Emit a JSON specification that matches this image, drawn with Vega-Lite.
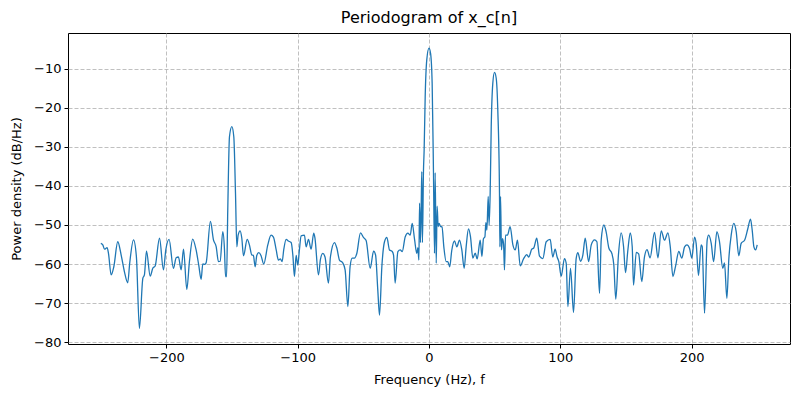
{
  "$schema": "https://vega.github.io/schema/vega-lite/v6.json",
  "width": 722,
  "height": 311,
  "autosize": {"type": "none"},
  "padding": {"left": 68, "top": 33, "right": 10, "bottom": 56},
  "title": {"text": "Periodogram of x_c[n]", "fontSize": 16, "fontWeight": "normal", "font": "DejaVu Sans", "offset": 7, "color": "black"},
  "data": {"values": [
    {"f": -250, "p": -54.7}, {"f": -248.5, "p": -55.1}, {"f": -247.2, "p": -56.2}, {"f": -245.2, "p": -55.8}, {"f": -244.2, "p": -57.2}, {"f": -242.1, "p": -62.8}, {"f": -240.1, "p": -60.7}, {"f": -237.1, "p": -54.3}, {"f": -234.5, "p": -57.7}, {"f": -232, "p": -62}, {"f": -229.5, "p": -64.8}, {"f": -228, "p": -59.8}, {"f": -225.1, "p": -53.8}, {"f": -222.9, "p": -58.1}, {"f": -220.6, "p": -76.5}, {"f": -218, "p": -63.7}, {"f": -216.8, "p": -62.8}, {"f": -215.2, "p": -56.7}, {"f": -212.4, "p": -63.1}, {"f": -210.4, "p": -61.1}, {"f": -208.6, "p": -60.5}, {"f": -205.3, "p": -53.4}, {"f": -202.3, "p": -61.5}, {"f": -200.5, "p": -56.4}, {"f": -198, "p": -53.7}, {"f": -194.7, "p": -61.1}, {"f": -192.6, "p": -58.4}, {"f": -190.9, "p": -58.2}, {"f": -188.8, "p": -61.5}, {"f": -187, "p": -56.2}, {"f": -184.5, "p": -66.5}, {"f": -182.5, "p": -59.4}, {"f": -180, "p": -53.6}, {"f": -177.4, "p": -56.4}, {"f": -175.4, "p": -60.3}, {"f": -173.6, "p": -63.9}, {"f": -172.3, "p": -60}, {"f": -171, "p": -60.1}, {"f": -169.8, "p": -59.7},
    {"f": -166.5, "p": -49.1}, {"f": -164.2, "p": -53.8}, {"f": -162.1, "p": -55.6}, {"f": -160.4, "p": -59.4}, {"f": -159.1, "p": -59.3}, {"f": -157.1, "p": -51.7}, {"f": -155.8, "p": -56.3}, {"f": -155, "p": -63.2}, {"f": -154.2, "p": -63.2}, {"f": -153.3, "p": -46.2}, {"f": -152, "p": -27.4}, {"f": -150.2, "p": -24.8}, {"f": -148.7, "p": -27.4}, {"f": -147.4, "p": -41.9}, {"f": -146.4, "p": -55.6}, {"f": -145.4, "p": -52.6}, {"f": -143.9, "p": -51.5}, {"f": -142.6, "p": -53.4}, {"f": -141.3, "p": -57.9}, {"f": -138.5, "p": -53.7}, {"f": -136.8, "p": -55.1}, {"f": -135, "p": -57.7}, {"f": -133.8, "p": -57.8}, {"f": -132.4, "p": -60.7}, {"f": -131.2, "p": -57.8}, {"f": -129.7, "p": -57.1}, {"f": -128, "p": -57.8}, {"f": -125.9, "p": -60}, {"f": -122.8, "p": -55.1}, {"f": -120.3, "p": -52.6}, {"f": -118.5, "p": -53.1}, {"f": -116.4, "p": -56.4}, {"f": -114.7, "p": -59}, {"f": -113.2, "p": -58.7}, {"f": -111.9, "p": -59.4}, {"f": -110.6, "p": -56.2}, {"f": -108.8, "p": -53.7}, {"f": -107.2, "p": -54.1}, {"f": -105, "p": -54.5}, {"f": -103.7, "p": -57.8}, {"f": -102.5, "p": -63.2}, {"f": -101.2, "p": -57.8}, {"f": -100, "p": -60.3}, {"f": -98.7, "p": -56.3}, {"f": -97.4, "p": -52.8},
    {"f": -94.9, "p": -52.6}, {"f": -93.6, "p": -55.6}, {"f": -91.8, "p": -53.7}, {"f": -89.8, "p": -56.2}, {"f": -87.8, "p": -52.1}, {"f": -86.9, "p": -53.3}, {"f": -84.2, "p": -62.8}, {"f": -82.7, "p": -58.8}, {"f": -80.9, "p": -57.3}, {"f": -79.2, "p": -58.2}, {"f": -76.6, "p": -64.9}, {"f": -75.1, "p": -58.2}, {"f": -72, "p": -54.5}, {"f": -70.2, "p": -55.9}, {"f": -68.2, "p": -59}, {"f": -65.7, "p": -59.7}, {"f": -63.9, "p": -61.5}, {"f": -61.8, "p": -70.9}, {"f": -60.1, "p": -60.6}, {"f": -58.5, "p": -58.5}, {"f": -56.8, "p": -58.5}, {"f": -55, "p": -57.3}, {"f": -52.2, "p": -52}, {"f": -49.9, "p": -53.2}, {"f": -47.9, "p": -54}, {"f": -44.8, "p": -61.1}, {"f": -42.2, "p": -56.7}, {"f": -40.7, "p": -57.7}, {"f": -39, "p": -66.7}, {"f": -37.7, "p": -73.1}, {"f": -35.9, "p": -60.6}, {"f": -33.9, "p": -54.3}, {"f": -32.1, "p": -53.2}, {"f": -30.1, "p": -56.4}, {"f": -28, "p": -56.8}, {"f": -27, "p": -57.7}, {"f": -25.8, "p": -64.9}, {"f": -23.7, "p": -56.8}, {"f": -21.9, "p": -56.4}, {"f": -20.4, "p": -56.8}, {"f": -18.1, "p": -53}, {"f": -16.1, "p": -52.1}, {"f": -14.3, "p": -52.6}, {"f": -12.8, "p": -49.6},
    {"f": -11, "p": -53.7}, {"f": -9.3, "p": -57.3}, {"f": -8.5, "p": -55.8}, {"f": -7.7, "p": -59}, {"f": -7.2, "p": -44.4}, {"f": -6.5, "p": -54.5}, {"f": -5.9, "p": -44.4}, {"f": -5.5, "p": -36.3}, {"f": -5, "p": -54.5}, {"f": -4.2, "p": -36}, {"f": -3.7, "p": -30.8}, {"f": -2.9, "p": -17.1}, {"f": -1.7, "p": -7.7}, {"f": 0, "p": -4.7}, {"f": 1.2, "p": -6}, {"f": 2.4, "p": -13.7}, {"f": 3.4, "p": -36.3}, {"f": 4.2, "p": -57.3}, {"f": 4.7, "p": -36.6}, {"f": 5.5, "p": -59.8}, {"f": 6.2, "p": -45.2}, {"f": 7, "p": -50.4}, {"f": 7.7, "p": -49.6}, {"f": 8.8, "p": -50.4}, {"f": 9.9, "p": -50.5}, {"f": 11.3, "p": -55.6}, {"f": 13.1, "p": -59.4}, {"f": 14.3, "p": -59.4}, {"f": 15.8, "p": -60.7}, {"f": 17.3, "p": -56.6},
    {"f": 19.4, "p": -54.1}, {"f": 21.2, "p": -55.6}, {"f": 23.2, "p": -53.9}, {"f": 25, "p": -56.4}, {"f": 26.8, "p": -61.1}, {"f": 28.3, "p": -55.6}, {"f": 30.1, "p": -51}, {"f": 31.6, "p": -53}, {"f": 33.4, "p": -58.5}, {"f": 35.2, "p": -57.2}, {"f": 36.7, "p": -58.7}, {"f": 39, "p": -53.9}, {"f": 40.3, "p": -58.1}, {"f": 41.5, "p": -53.5}, {"f": 42.6, "p": -53}, {"f": 43.3, "p": -49.4}, {"f": 44.1, "p": -51.3}, {"f": 45.1, "p": -42.7}, {"f": 45.8, "p": -50}, {"f": 46.6, "p": -41.8}, {"f": 47.4, "p": -24.8}, {"f": 48.6, "p": -13.7}, {"f": 49.9, "p": -10.9}, {"f": 51.2, "p": -12.4}, {"f": 52.4, "p": -20.5}, {"f": 53.7, "p": -41.8}, {"f": 54, "p": -55.6}, {"f": 54.5, "p": -42.7}, {"f": 55.2, "p": -56.4}, {"f": 56, "p": -53.5}, {"f": 56.8, "p": -54.8}, {"f": 57.5, "p": -61.5}, {"f": 58.3, "p": -52.6}, {"f": 59.8, "p": -52.6}, {"f": 61.8, "p": -50.4}, {"f": 63.9, "p": -55.1}, {"f": 65.7, "p": -56.4}, {"f": 67.4, "p": -53.9}, {"f": 69.5, "p": -60.5}, {"f": 72, "p": -58.7},
    {"f": 74.5, "p": -57.6}, {"f": 76, "p": -58.2}, {"f": 78.3, "p": -56.2}, {"f": 79.8, "p": -55.9}, {"f": 82.1, "p": -53.4}, {"f": 84.2, "p": -58}, {"f": 86.7, "p": -58.6}, {"f": 89.3, "p": -54.3}, {"f": 92.3, "p": -53.7}, {"f": 94.3, "p": -58.2}, {"f": 96.1, "p": -56.2}, {"f": 97.6, "p": -58.2}, {"f": 98.9, "p": -59.4}, {"f": 100.7, "p": -63.1}, {"f": 103.2, "p": -58.6}, {"f": 104.5, "p": -59.8}, {"f": 105.8, "p": -70.9}, {"f": 107.8, "p": -61.1}, {"f": 110.1, "p": -72.4}, {"f": 112.1, "p": -58.6}, {"f": 113.4, "p": -57.1}, {"f": 115.4, "p": -59.3}, {"f": 117.2, "p": -57.7}, {"f": 119, "p": -53.4}, {"f": 121.6, "p": -59.4}, {"f": 123.6, "p": -55.1}, {"f": 126.1, "p": -53.8}, {"f": 127.9, "p": -54.3}, {"f": 129.9, "p": -67.5}, {"f": 131.2, "p": -53.8}, {"f": 133.2, "p": -50}, {"f": 134.9, "p": -51.7}, {"f": 137, "p": -55.9}, {"f": 139.3, "p": -57.3}, {"f": 140.8, "p": -60.3}, {"f": 142.3, "p": -69}, {"f": 144.3, "p": -57.7}, {"f": 146.4, "p": -52}, {"f": 148.2, "p": -55.5}, {"f": 149.7, "p": -62.2}, {"f": 151.5, "p": -56.4}, {"f": 153.3, "p": -52}, {"f": 154.8, "p": -55.5},
    {"f": 155.8, "p": -65.4}, {"f": 157.9, "p": -57}, {"f": 159.7, "p": -57.4}, {"f": 162.1, "p": -64.5}, {"f": 164.1, "p": -58.3}, {"f": 166.1, "p": -56.3}, {"f": 168.4, "p": -58.4}, {"f": 171.8, "p": -51.9}, {"f": 174.4, "p": -58.4}, {"f": 176.9, "p": -51.5}, {"f": 179.4, "p": -53.9}, {"f": 182, "p": -52}, {"f": 183.8, "p": -55.6}, {"f": 185.8, "p": -63.2}, {"f": 187.8, "p": -60.6}, {"f": 190.3, "p": -56.8}, {"f": 192.6, "p": -58.5}, {"f": 194.7, "p": -55.6}, {"f": 196.5, "p": -55.1}, {"f": 198.5, "p": -56}, {"f": 200.2, "p": -58.5}, {"f": 202.3, "p": -53.1}, {"f": 203.5, "p": -54.7}, {"f": 205.3, "p": -62.9}, {"f": 207.3, "p": -55.1}, {"f": 208.1, "p": -55.5}, {"f": 209.9, "p": -72.6}, {"f": 211.9, "p": -53.9}, {"f": 213, "p": -52.6}, {"f": 215, "p": -54.7}, {"f": 216.8, "p": -59.4}, {"f": 219.3, "p": -51.7}, {"f": 221.3, "p": -54.3}, {"f": 223.8, "p": -61.1}, {"f": 225.1, "p": -59.7}, {"f": 226.9, "p": -68.8}, {"f": 228.4, "p": -58.7}, {"f": 230.2, "p": -52.6}, {"f": 232.2, "p": -49.6}, {"f": 234, "p": -51.7}, {"f": 236, "p": -57.9}, {"f": 237.8, "p": -54.7}, {"f": 240.4, "p": -53.9}, {"f": 242.9, "p": -50.9}, {"f": 244.9, "p": -48.5}, {"f": 246.2, "p": -51.3}, {"f": 247.5, "p": -55.6}, {"f": 248.8, "p": -56.4}, {"f": 250, "p": -55.1}
  ]},
  "mark": {"type": "line", "color": "#1f77b4", "strokeWidth": 1.3, "clip": true, "interpolate": "monotone"},
  "encoding": {
    "x": {"field": "f", "type": "quantitative", "sort": null,
      "scale": {"domain": [-275, 275], "nice": false, "zero": false},
      "axis": {"title": "Frequency (Hz), f", "values": [-200, -100, 0, 100, 200]}},
    "y": {"field": "p", "type": "quantitative",
      "scale": {"domain": [-80.5, -0.8], "nice": false, "zero": false},
      "axis": {"title": "Power density (dB/Hz)", "values": [-80, -70, -60, -50, -40, -30, -20, -10]}}
  },
  "config": {
    "font": "DejaVu Sans",
    "view": {"stroke": "black", "strokeWidth": 1},
    "axis": {
      "domain": false,
      "grid": true, "gridColor": "#b0b0b0", "gridDash": [4, 2], "gridWidth": 0.8,
      "ticks": true, "tickColor": "black", "tickSize": 4, "tickWidth": 1,
      "labelFontSize": 13, "labelColor": "black", "labelPadding": 3,
      "titleFontSize": 13, "titleFontWeight": "normal", "titleColor": "black"
    },
    "axisX": {"titlePadding": 9},
    "axisY": {"titlePadding": 10}
  }
}
